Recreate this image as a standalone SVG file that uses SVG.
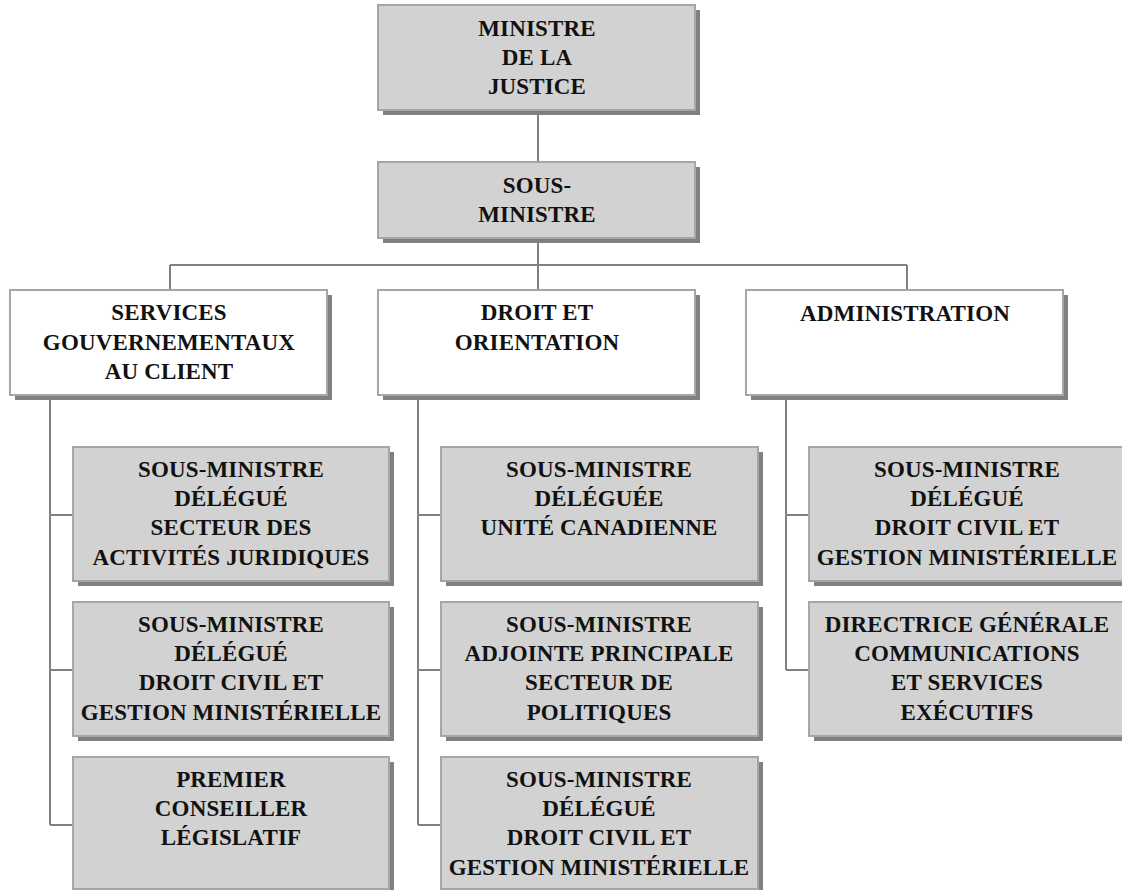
<svg xmlns="http://www.w3.org/2000/svg" width="1122" height="890" viewBox="0 0 1122 890">
<style>
.sh{fill:#808080}
.g{fill:#d2d2d2;stroke:#a6a6a6;stroke-width:2}
.w{fill:#ffffff;stroke:#a6a6a6;stroke-width:2}
.c{fill:none;stroke:#808080;stroke-width:2}
text{font-family:"Liberation Serif","Times New Roman",serif;font-weight:bold;font-size:23px;letter-spacing:0.15px;fill:#111;text-anchor:middle}
</style>
<rect width="1122" height="890" fill="#fff"/>
<g id="connectors">
<path class="c" d="M538 110V163M538 238V265M170 265H907M170 265V290M538 265V290M907 265V290"/>
<path class="c" d="M50 395V825M50 515H73M50 670H73M50 825H73"/>
<path class="c" d="M418 395V825M418 515H441M418 670H441M418 825H441"/>
<path class="c" d="M786 395V670M786 515H809M786 670H809"/>
</g>
<g id="ministre">
<rect class="sh" x="383" y="10" width="317" height="105"/>
<rect class="g" x="378" y="5" width="317" height="105"/>
<text x="537" y="36">MINISTRE</text>
<text x="537" y="65">DE LA</text>
<text x="537" y="94">JUSTICE</text>
</g>
<g id="sous-ministre">
<rect class="sh" x="383" y="167" width="317" height="76"/>
<rect class="g" x="378" y="162" width="317" height="76"/>
<text x="537" y="193">SOUS-</text>
<text x="537" y="222">MINISTRE</text>
</g>
<g id="services">
<rect class="sh" x="15" y="295" width="317" height="105"/>
<rect class="w" x="10" y="290" width="317" height="105"/>
<text x="169" y="320">SERVICES</text>
<text x="169" y="350">GOUVERNEMENTAUX</text>
<text x="169" y="379">AU CLIENT</text>
</g>
<g id="droit">
<rect class="sh" x="383" y="295" width="317" height="105"/>
<rect class="w" x="378" y="290" width="317" height="105"/>
<text x="537" y="320">DROIT ET</text>
<text x="537" y="350">ORIENTATION</text>
</g>
<g id="administration">
<rect class="sh" x="751" y="295" width="317" height="105"/>
<rect class="w" x="746" y="290" width="317" height="105"/>
<text x="905" y="321">ADMINISTRATION</text>
</g>
<g id="s1">
<rect class="sh" x="78" y="452" width="316" height="134"/>
<rect class="g" x="73" y="447" width="316" height="134"/>
<text x="231" y="477">SOUS-MINISTRE</text>
<text x="231" y="506">DÉLÉGUÉ</text>
<text x="231" y="535">SECTEUR DES</text>
<text x="231" y="565">ACTIVITÉS JURIDIQUES</text>
</g>
<g id="s2">
<rect class="sh" x="78" y="607" width="316" height="134"/>
<rect class="g" x="73" y="602" width="316" height="134"/>
<text x="231" y="632">SOUS-MINISTRE</text>
<text x="231" y="661">DÉLÉGUÉ</text>
<text x="231" y="690">DROIT CIVIL ET</text>
<text x="231" y="720">GESTION MINISTÉRIELLE</text>
</g>
<g id="s3">
<rect class="sh" x="78" y="762" width="316" height="134"/>
<rect class="g" x="73" y="757" width="316" height="132"/>
<text x="231" y="787">PREMIER</text>
<text x="231" y="816">CONSEILLER</text>
<text x="231" y="845">LÉGISLATIF</text>
</g>
<g id="d1">
<rect class="sh" x="446" y="452" width="317" height="134"/>
<rect class="g" x="441" y="447" width="317" height="134"/>
<text x="599" y="477">SOUS-MINISTRE</text>
<text x="599" y="506">DÉLÉGUÉE</text>
<text x="599" y="535">UNITÉ  CANADIENNE</text>
</g>
<g id="d2">
<rect class="sh" x="446" y="607" width="317" height="134"/>
<rect class="g" x="441" y="602" width="317" height="134"/>
<text x="599" y="632">SOUS-MINISTRE</text>
<text x="599" y="661">ADJOINTE PRINCIPALE</text>
<text x="599" y="690">SECTEUR DE</text>
<text x="599" y="720">POLITIQUES</text>
</g>
<g id="d3">
<rect class="sh" x="446" y="762" width="317" height="134"/>
<rect class="g" x="441" y="757" width="317" height="132"/>
<text x="599" y="787">SOUS-MINISTRE</text>
<text x="599" y="816">DÉLÉGUÉ</text>
<text x="599" y="845">DROIT CIVIL ET</text>
<text x="599" y="875">GESTION MINISTÉRIELLE</text>
</g>
<g id="a1">
<rect class="sh" x="814" y="452" width="317" height="134"/>
<rect class="g" x="809" y="447" width="317" height="134"/>
<text x="967" y="477">SOUS-MINISTRE</text>
<text x="967" y="506">DÉLÉGUÉ</text>
<text x="967" y="535">DROIT CIVIL ET</text>
<text x="967" y="565">GESTION MINISTÉRIELLE</text>
</g>
<g id="a2">
<rect class="sh" x="814" y="607" width="317" height="134"/>
<rect class="g" x="809" y="602" width="317" height="134"/>
<text x="967" y="632">DIRECTRICE GÉNÉRALE</text>
<text x="967" y="661">COMMUNICATIONS</text>
<text x="967" y="690">ET SERVICES</text>
<text x="967" y="720">EXÉCUTIFS</text>
</g>
</svg>
